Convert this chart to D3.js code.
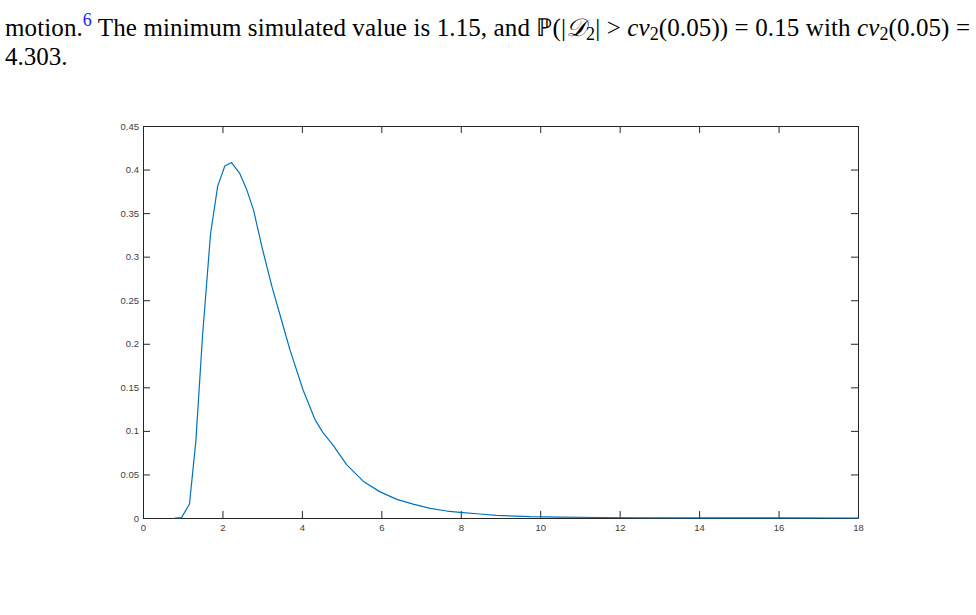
<!DOCTYPE html>
<html>
<head>
<meta charset="utf-8">
<script src="https://cdn.jsdelivr.net/npm/d3@7"></script>
<style>
  body { margin: 0; background: #fff; }
  svg { display: block; }
</style>
</head>
<body>
<svg id="chart" width="976" height="615"></svg>
<script>
const W = 976, H = 615;
const SERIF = "'Liberation Serif', 'Times New Roman', serif";
const SANS = "'Liberation Sans', Arial, Helvetica, sans-serif";

// density estimate
const xs = [0.8, 0.97, 1.17, 1.33, 1.50, 1.70, 1.88, 2.06, 2.23, 2.43, 2.61, 2.78, 3.0, 3.25, 3.5, 3.7,
  4.03, 4.33, 4.53, 4.78, 5.13, 5.55, 5.97, 6.39, 6.8, 7.23, 7.65, 7.98, 8.48, 8.9, 9.74, 10.5,
  11.5, 12.5, 14, 16, 18];
const ys = [0, 0.0004, 0.016, 0.088, 0.21, 0.326, 0.381, 0.404, 0.408, 0.396, 0.377, 0.354, 0.31, 0.265, 0.225, 0.193,
  0.147, 0.113, 0.098, 0.084, 0.061, 0.042, 0.030, 0.0214, 0.016, 0.011, 0.008, 0.0065, 0.0046, 0.003, 0.0015, 0.001,
  0.0006, 0.0003, 0.0001, 0.00003, 0];

const xTicks = [0, 2, 4, 6, 8, 10, 12, 14, 16, 18];
const yTicks = [0, 0.05, 0.1, 0.15, 0.2, 0.25, 0.3, 0.35, 0.4, 0.45];

const svg = d3.select("#chart");
svg.append("rect").attr("width", W).attr("height", H).attr("fill", "#fff");

// paragraph text above the figure
const fs = 25, sub = 18;
const p1 = svg.append("text")
  .attr("font-family", SERIF).attr("font-size", fs).attr("fill", "#000")
  .attr("x", 5).attr("y", 36)
  .attr("textLength", 965).attr("lengthAdjust", "spacing");
p1.append("tspan").text("motion.");
p1.append("tspan").attr("dy", -10).attr("font-size", sub).attr("fill", "#1a1aff").text("6");
p1.append("tspan").attr("dy", 10).text(" The minimum simulated value is 1.15, and \u2119(|");
p1.append("tspan").attr("font-style", "italic").text("\uD835\uDC9F");
p1.append("tspan").attr("dy", 4).attr("font-size", sub).text("2");
p1.append("tspan").attr("dy", -4).text("| > ");
p1.append("tspan").attr("font-style", "italic").text("cv");
p1.append("tspan").attr("dy", 4).attr("font-size", sub).text("2");
p1.append("tspan").attr("dy", -4).text("(0.05)) = 0.15 with ");
p1.append("tspan").attr("font-style", "italic").text("cv");
p1.append("tspan").attr("dy", 4).attr("font-size", sub).text("2");
p1.append("tspan").attr("dy", -4).text("(0.05) =");

svg.append("text")
  .attr("font-family", SERIF).attr("font-size", fs).attr("fill", "#000")
  .attr("x", 5).attr("y", 65).text("4.303.");

// axes
const m = { left: 143, right: 858, top: 126, bottom: 518 };
const x = d3.scaleLinear().domain([0, 18]).range([m.left, m.right]);
const y = d3.scaleLinear().domain([0, 0.45]).range([m.bottom, m.top]);
const tl = 7;

const fmt = d => d === 0 ? "0" : String(d);

const gx = svg.append("g").attr("transform", `translate(0,${m.bottom})`)
  .call(d3.axisBottom(x).tickValues(xTicks).tickFormat(fmt).tickSizeInner(-tl).tickSizeOuter(0).tickPadding(5));
const gxt = svg.append("g").attr("transform", `translate(0,${m.top})`)
  .call(d3.axisTop(x).tickValues(xTicks).tickFormat("").tickSizeInner(-tl).tickSizeOuter(0));
const gy = svg.append("g").attr("transform", `translate(${m.left},0)`)
  .call(d3.axisLeft(y).tickValues(yTicks).tickFormat(fmt).tickSizeInner(-tl).tickSizeOuter(0).tickPadding(4));
const gyr = svg.append("g").attr("transform", `translate(${m.right},0)`)
  .call(d3.axisRight(y).tickValues(yTicks).tickFormat("").tickSizeInner(-tl).tickSizeOuter(0));

[gx, gxt, gy, gyr].forEach(g => {
  g.select(".domain").attr("stroke", "#262626").attr("stroke-width", 1);
  g.selectAll(".tick line").attr("stroke", "#262626").attr("stroke-width", 1);
  g.selectAll(".tick text").attr("font-family", SANS).attr("font-size", 9.5).attr("fill", "#404040");
});
gx.selectAll(".tick text").attr("dy", "0.85em");

// density curve
const line = d3.line().x((d, i) => x(xs[i])).y(d => y(d));
svg.append("path")
  .datum(ys)
  .attr("fill", "none")
  .attr("stroke", "#0072bd")
  .attr("stroke-width", 1.2)
  .attr("stroke-linejoin", "round")
  .attr("d", line);
</script>
</body>
</html>
